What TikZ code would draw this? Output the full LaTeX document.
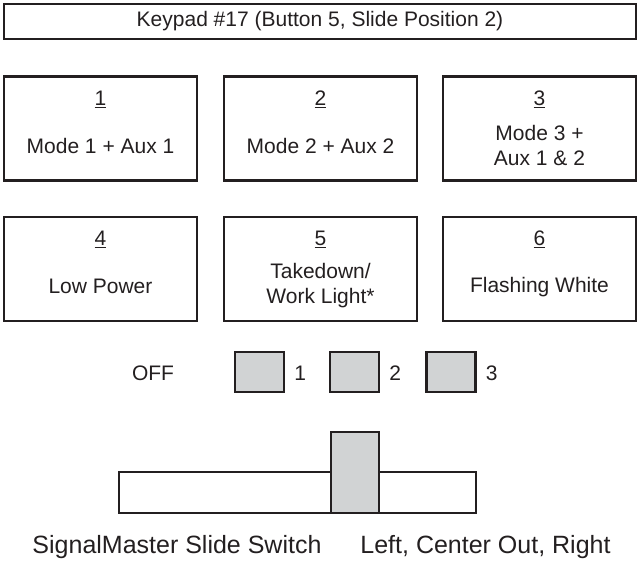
\documentclass[tikz,border=0pt]{standalone}
\usepackage{fontspec}
\setmainfont{Liberation Sans}
\usetikzlibrary{calc}
\definecolor{ink}{HTML}{231F20}
\definecolor{knobgray}{HTML}{D1D3D4}
\begin{document}
\begin{tikzpicture}[x=1pt,y=-1pt,
  frame/.style={draw=ink, line width=2.5pt, inner sep=0pt},
  kbox/.style={frame, minimum width=193pt, minimum height=104pt},
  sq/.style={frame, fill=knobgray, minimum width=49pt, minimum height=40pt},
  txt/.style={text=ink, font=\fontsize{21}{25.5}\selectfont, align=center, inner sep=0pt},
  big/.style={text=ink, font=\fontsize{25}{30}\selectfont, inner sep=0pt}
]
\useasboundingbox (0,0) rectangle (638,563);

% title
\node[frame, minimum width=632pt, minimum height=35pt, txt] (title) at (320,21.5) {Keypad \#17 (Button 5, Slide Position 2)};

% keypad buttons
\node[kbox] (b1) at (100.5,128.5) {};
\node[kbox] (b2) at (320.5,128.5) {};
\node[kbox] (b3) at (539.5,128.5) {};
\node[kbox] (b4) at (100.5,269) {};
\node[kbox] (b5) at (320.5,269) {};
\node[kbox] (b6) at (539.5,269) {};

\node[txt] (n1) at ($(b1.north)+(0,24)$) {\underline{1}};
\node[txt] (n2) at ($(b2.north)+(0,24)$) {\underline{2}};
\node[txt] (n3) at ($(b3.north)+(0,24)$) {\underline{3}};
\node[txt] (n4) at ($(b4.north)+(0,24)$) {\underline{4}};
\node[txt] (n5) at ($(b5.north)+(0,24)$) {\underline{5}};
\node[txt] (n6) at ($(b6.north)+(0,24)$) {\underline{6}};

\node[txt] (t1) at ($(b1.north)+(0,71)$) {Mode 1 + Aux 1};
\node[txt] (t2) at ($(b2.north)+(0,71)$) {Mode 2 + Aux 2};
\node[txt] (t3) at ($(b3.north)+(0,70)$) {Mode 3 +\\Aux 1 \& 2};
\node[txt] (t4) at ($(b4.north)+(0,71)$) {Low Power};
\node[txt] (t5) at ($(b5.north)+(0,70)$) {Takedown/\\Work Light*};
\node[txt] (t6) at ($(b6.north)+(0,71)$) {Flashing White};

% position indicators
\node[txt] (off) at (153,373) {OFF};
\node[sq] (s1) at (259.5,372) {};
\node[sq] (s2) at (354.5,372) {};
\node[sq] (s3) at (451,372) {};
\node[txt, anchor=west] (l1) at ($(s1.east)+(9,1)$) {1};
\node[txt, anchor=west] (l2) at ($(s2.east)+(9,1)$) {2};
\node[txt, anchor=west] (l3) at ($(s3.east)+(9,1)$) {3};

% slide switch
\node[frame, minimum width=357pt, minimum height=41pt] (bar) at (297.5,492.5) {};
\node[frame, fill=knobgray, minimum width=48pt, minimum height=81pt] (knob) at (355,472.5) {};

\node[big] (cap1) at (177,547) {SignalMaster Slide Switch};
\node[big] (cap2) at (485.5,547) {Left, Center Out, Right};
\end{tikzpicture}
\end{document}
